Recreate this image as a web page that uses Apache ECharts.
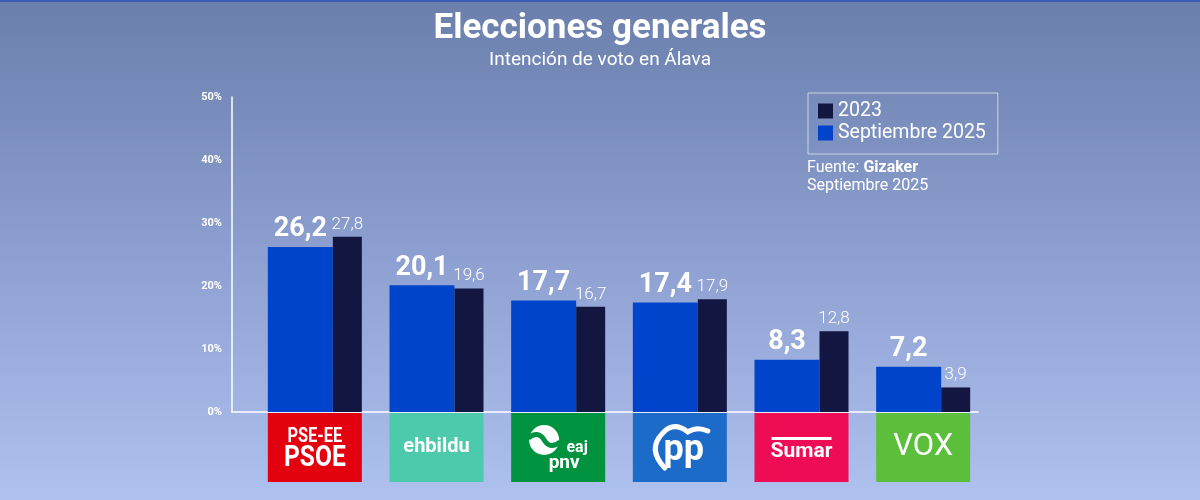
<!DOCTYPE html>
<html>
<head>
<meta charset="utf-8">
<script src="https://cdn.jsdelivr.net/npm/echarts@6/dist/echarts.min.js"></script>
<style>
  html, body { margin: 0; padding: 0; }
  #chart { width: 1200px; height: 500px; }
</style>
</head>
<body>
<div id="chart"></div>
<script>
var partidos = ['PSOE', 'EH Bildu', 'PNV', 'PP', 'Sumar', 'Vox'];
var sep2025 = [26.2, 20.1, 17.7, 17.4, 8.3, 7.2];
var elec2023 = [27.8, 19.6, 16.7, 17.9, 12.8, 3.9];
var yTicks = [0, 10, 20, 30, 40, 50];

var logoColors = ['#e3000f', '#4dcaac', '#00933f', '#1d6bc9', '#ee0c55', '#5bbf3b'];

function coma(p) {
    return String(p.value).replace('.', ',');
}

// logo boxes drawn under each category
function renderLogo(params, api) {
    var i = api.value(0);
    var pt = api.coord([i, 0]);
    var cx = pt[0], y0 = pt[1] + 1;
    var white = '#ffffff';
    var kids = [{
        type: 'rect',
        shape: { x: cx - 47, y: y0, width: 94, height: 69 },
        style: { fill: logoColors[i] }
    }];
    function txt(t, dx, dy, font, sx) {
        return {
            type: 'text', x: cx + dx, y: y0 + dy, scaleX: sx || 1,
            style: { text: t, fill: white, font: font, textAlign: 'center', textVerticalAlign: 'middle' }
        };
    }
    if (i === 0) {
        kids.push(txt('PSE-EE', 0, 24, 'bold 20px Roboto', 0.82));
        kids.push(txt('PSOE', 0, 45, 'bold 30px Roboto', 0.82));
    } else if (i === 1) {
        kids.push(txt('ehbildu', 0, 34, 'bold 20px Roboto'));
    } else if (i === 2) {
        kids.push({ type: 'circle', shape: { cx: cx - 14, cy: y0 + 27, r: 15 }, style: { fill: white } });
        kids.push({
            type: 'path', x: cx - 14, y: y0 + 27,
            shape: { pathData: 'M -16 -2 Q -6 -10 0 0 Q 6 10 16 2' },
            style: { fill: 'none', stroke: logoColors[2], lineWidth: 5 }
        });
        kids.push(txt('eaj', 19, 35, 'bold 16px Roboto'));
        kids.push(txt('pnv', 6, 50, 'bold 19px Roboto'));
    } else if (i === 3) {
        kids.push({
            type: 'path', x: cx, y: y0,
            shape: { pathData: 'M -17 20 Q -33 36 -15 55 M -17 20 Q -6 8 8 19 Q 17 13 28 18' },
            style: { fill: 'none', stroke: white, lineWidth: 5, lineCap: 'round' }
        });
        kids.push(txt('pp', 4, 38, 'bold 36px Roboto'));
    } else if (i === 4) {
        kids.push({ type: 'rect', shape: { x: cx - 30, y: y0 + 24, width: 60, height: 3 }, style: { fill: white } });
        kids.push(txt('Sumar', 0, 39, 'bold 21px Roboto'));
    } else {
        kids.push(txt('VOX', 0, 34, 'normal 31px Roboto'));
    }
    return { type: 'group', children: kids };
}

var myChart = echarts.init(document.getElementById('chart'));
var option = {
    backgroundColor: {
        type: 'linear', x: 0, y: 0, x2: 0, y2: 1,
        colorStops: [
            { offset: 0, color: '#6a7fac' },
            { offset: 0.5, color: '#8c9fd0' },
            { offset: 1, color: '#afc1ee' }
        ]
    },
    animation: false,
    textStyle: { fontFamily: 'Roboto' },
    graphic: [{ type: 'rect', shape: { x: 0, y: 0, width: 1200, height: 2 }, style: { fill: '#3d5fb3' } }],
    title: [
        {
            text: 'Elecciones generales',
            subtext: 'Intención de voto en Álava',
            left: 'center',
            top: 4,
            itemGap: 0,
            textStyle: { color: '#fff', fontSize: 35, fontWeight: 'bold', fontFamily: 'Roboto', lineHeight: 40 },
            subtextStyle: { color: '#fff', fontSize: 19, fontFamily: 'Roboto', lineHeight: 22 }
        },
        {
            text: '{a|Fuente: }{b|Gizaker}\n{a|Septiembre 2025}',
            left: 802,
            top: 154,
            textStyle: {
                rich: {
                    a: { color: '#fff', fontSize: 16, fontWeight: 'normal', fontFamily: 'Roboto', lineHeight: 18 },
                    b: { color: '#fff', fontSize: 16, fontFamily: 'Roboto', fontWeight: 'bold', lineHeight: 18 }
                }
            }
        }
    ],
    legend: {
        data: ['2023', 'Septiembre 2025'],
        orient: 'vertical',
        left: 808,
        top: 93,
        padding: [8, 12, 11, 10],
        itemWidth: 15,
        itemHeight: 15,
        itemGap: 2,
        icon: 'rect',
        borderColor: 'rgba(255,255,255,0.6)',
        borderWidth: 1,
        textStyle: { color: '#fff', fontSize: 19.5, fontFamily: 'Roboto', lineHeight: 19 }
    },
    grid: [
        { left: 254, right: 216, top: 97, bottom: 88 },
        { left: 232, right: 222, top: 97, bottom: 88 }
    ],
    xAxis: [
        { type: 'category', data: partidos, gridIndex: 0, show: false },
        {
            type: 'value', gridIndex: 1, min: 0, max: 1,
            axisLine: { show: true, lineStyle: { color: '#fff', width: 1.5 } },
            axisTick: { show: false }, axisLabel: { show: false }, splitLine: { show: false }
        }
    ],
    yAxis: [
        { type: 'value', gridIndex: 0, min: 0, max: 50, show: false },
        {
            type: 'value', gridIndex: 1, min: yTicks[0], max: yTicks[yTicks.length - 1], interval: 10,
            axisLine: { show: true, lineStyle: { color: '#fff', width: 1.5 } },
            axisTick: { show: false },
            splitLine: { show: false },
            axisLabel: { color: '#fff', fontSize: 11, fontWeight: 'bold', fontFamily: 'Roboto', formatter: '{value}%', margin: 10 }
        }
    ],
    series: [
        {
            name: 'Septiembre 2025',
            type: 'bar',
            data: sep2025,
            barWidth: 65,
            barGap: 0,
            itemStyle: { color: '#0044cc' },
            label: {
                show: true, position: 'top', distance: 4, formatter: coma,
                color: '#fff', fontSize: 27, fontWeight: 'bold', fontFamily: 'Roboto'
            }
        },
        {
            name: '2023',
            type: 'bar',
            data: elec2023,
            barWidth: 29,
            barGap: 0,
            itemStyle: { color: '#121640' },
            label: {
                show: true, position: 'top', distance: 4, formatter: coma,
                color: '#fff', fontSize: 17, fontWeight: 300, fontFamily: 'Roboto'
            }
        },
        {
            name: 'logos',
            type: 'custom',
            clip: false,
            renderItem: renderLogo,
            data: partidos.map(function (p, i) { return [i, 0]; }),
            silent: true
        }
    ]
};
myChart.setOption(option);
</script>
</body>
</html>
